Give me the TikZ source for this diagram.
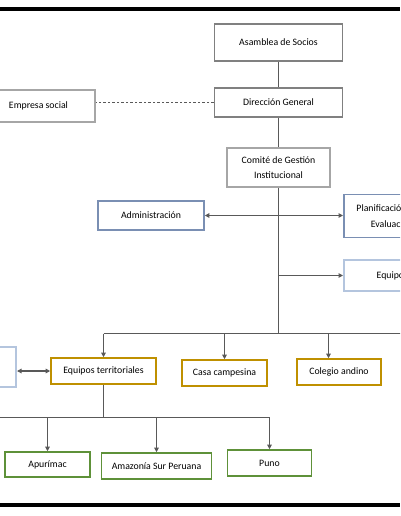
\documentclass[tikz,border=0pt]{standalone}
\usepackage{fontspec}
\setmainfont{Carlito}
\usepackage{tikz}
\usetikzlibrary{arrows.meta,positioning,calc}
\definecolor{LineGray}{HTML}{595959}
\definecolor{BoxGray}{HTML}{808080}
\definecolor{SoftGray}{HTML}{A6A6A6}
\definecolor{SteelBlue}{HTML}{7A8FB3}
\definecolor{PaleBlue}{HTML}{B4C5DE}
\definecolor{TerrGold}{HTML}{BF9000}
\definecolor{RegionGreen}{HTML}{5E9139}

\begin{document}
\begin{tikzpicture}[x=1pt, y=-1pt,
    orgbox/.style={draw=BoxGray, fill=white, line width=1.6pt, font=\fontsize{9.8}{14.3}\selectfont, align=center, inner sep=0pt},
    conn/.style={draw=LineGray, line width=1.1pt},
    arr/.style={conn, -{Triangle[length=4.5pt,width=4.5pt]}},
    darr/.style={conn, {Triangle[length=4.5pt,width=4.5pt]}-{Triangle[length=4.5pt,width=4.5pt]}}
  ]
    \useasboundingbox (0,0) rectangle (400,516);
    \fill[white] (0,0) rectangle (400,516);
    \clip (0,0) rectangle (400,516);
    \draw[line width=3.5pt] (0,9) -- (400,9);
    \draw[line width=3.5pt] (0,505) -- (400,505);

    % direccion
    \node[orgbox, minimum width=128pt, minimum height=37pt] (asamblea) at (278.5,42.5) {Asamblea de Socios};
    \node[orgbox, minimum width=128pt, minimum height=29pt] (direccion) at (278.5,102.5) {Dirección General};
    \node[orgbox, draw=SoftGray, minimum width=113pt, minimum height=32pt] (empresa) at (38.5,106) {Empresa social};
    \node[orgbox, draw=SoftGray, minimum width=103pt, minimum height=39pt] (comite) at (278.5,167.5) {Comité de Gestión\\Institucional};

    % staff
    \node[orgbox, draw=SteelBlue, minimum width=106pt, minimum height=29pt] (admin) at (151,215.5) {Administración};
    \node[orgbox, draw=SteelBlue, anchor=west, minimum width=82pt, minimum height=43pt, align=right, font=\fontsize{9.8}{16.7}\selectfont] (plan) at (343,216) {Planificación y\\Evaluación};
    \node[orgbox, draw=PaleBlue, anchor=west, minimum width=97pt, minimum height=31pt] (equipos) at (343,275.5) {Equipos};

    % linea
    \node[orgbox, draw=PaleBlue, anchor=east, minimum width=80pt, minimum height=40pt] (izq) at (17,367) {};
    \node[orgbox, draw=TerrGold, minimum width=105pt, minimum height=26pt] (territorio) at (103.5,371) {Equipos territoriales};
    \node[orgbox, draw=TerrGold, minimum width=85pt, minimum height=26pt] (casa) at (224.5,373) {Casa campesina};
    \node[orgbox, draw=TerrGold, minimum width=84pt, minimum height=26pt] (colegio) at (339,372) {Colegio andino};

    % regiones
    \node[orgbox, draw=RegionGreen, minimum width=85pt, minimum height=25pt] (apurimac) at (47.5,464.5) {Apurímac};
    \node[orgbox, draw=RegionGreen, minimum width=110pt, minimum height=26pt] (amazonia) at (156.5,466) {Amazonía Sur Peruana};
    \node[orgbox, draw=RegionGreen, minimum width=84pt, minimum height=26pt] (puno) at (269.5,463) {Puno};

    \coordinate (hub) at (278.5,333.5);
    \coordinate (busR) at (420,333.5);
    \coordinate (colx) at (328.5,333.5);
    \coordinate (hub2) at (103.5,417.5);
    \coordinate (busL) at (-20,417.5);

    \draw[conn] (asamblea) -- (direccion);
    \draw[conn] (direccion) -- (comite);
    \draw[conn, line width=0.8pt, dash pattern=on 2.5pt off 2pt] (direccion.west) -- (direccion.west -| empresa.east);
    \draw[conn] (comite) -- (hub);
    \draw[darr] (admin.east) -- (admin.east -| plan.west);
    \draw[arr] (comite |- equipos) -- (equipos.west);

    \draw[conn] (territorio.north |- hub) -- (busR);
    \draw[arr] (territorio.north |- hub) -- (territorio);
    \draw[arr] (casa.north |- hub) -- (casa);
    \draw[arr] (colx) -- (colx |- colegio.north);
    \draw[darr] (izq.east |- territorio) -- (territorio.west);

    \draw[conn] (territorio) -- (hub2);
    \draw[conn] (busL) -- (hub2 -| puno);
    \draw[arr] (apurimac |- hub2) -- (apurimac);
    \draw[arr] (amazonia |- hub2) -- (amazonia);
    \draw[arr] (puno |- hub2) -- (puno);
  \end{tikzpicture}
\end{document}
